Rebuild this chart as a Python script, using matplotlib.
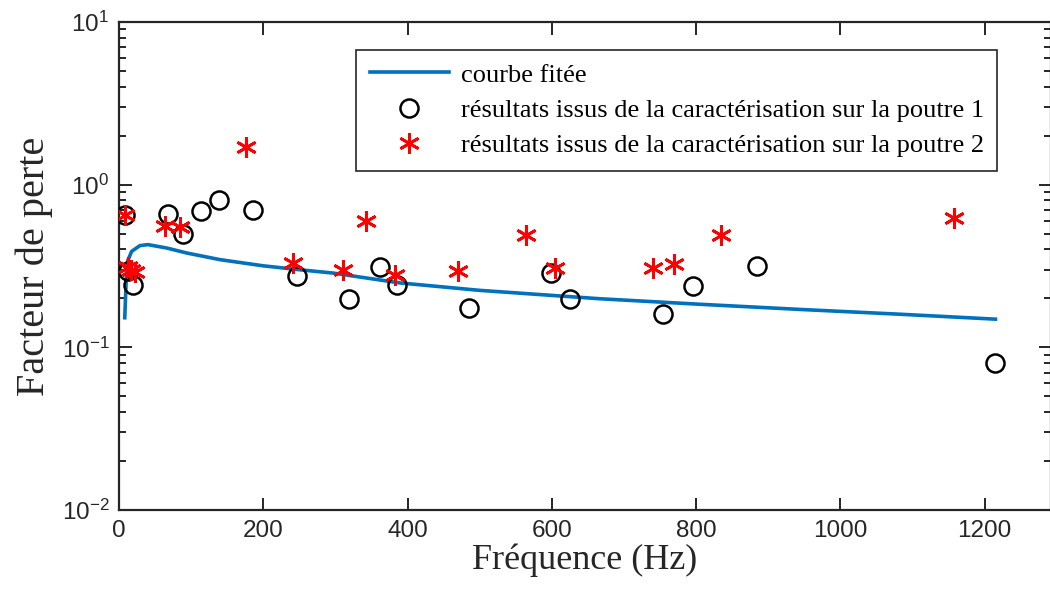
import matplotlib
matplotlib.use("Agg")
import matplotlib.pyplot as plt
from matplotlib.ticker import LogLocator, FixedLocator

# courbe fitée
f_fit = [8, 10.5, 12, 17.5, 29, 40, 66, 94, 140, 200, 250, 297, 389, 500, 666, 805, 944, 1080, 1215]
eta_fit = [0.152, 0.30, 0.34, 0.389, 0.422, 0.428, 0.408, 0.38, 0.346, 0.317, 0.300,
           0.286, 0.249, 0.224, 0.199, 0.184, 0.171, 0.160, 0.149]

# poutre 1
f_p1 = [8, 12, 20, 67.5, 89, 113, 139, 186, 247, 319, 362, 386, 485, 599, 625, 754, 796, 885, 1214]
eta_p1 = [0.65, 0.296, 0.243, 0.663, 0.50, 0.685, 0.80, 0.70, 0.273, 0.198, 0.312, 0.24,
          0.175, 0.287, 0.199, 0.160, 0.237, 0.318, 0.080]

# poutre 2
f_p2 = [8, 13, 17, 22, 64, 85, 176, 241, 311, 343, 382, 470, 564, 604, 740, 769, 834, 1158]
eta_p2 = [0.648, 0.31, 0.30, 0.29, 0.56, 0.55, 1.706, 0.33, 0.297, 0.60, 0.28, 0.296,
          0.49, 0.308, 0.308, 0.325, 0.49, 0.627]

axis_col = '#262626'
plt.rcParams['font.family'] = 'Liberation Sans'
plt.rcParams['mathtext.default'] = 'regular'
plt.rcParams['axes.unicode_minus'] = False

fig = plt.figure(figsize=(10.5, 5.99), dpi=100)
ax = fig.add_axes([119 / 1050, 1 - 510 / 599, (1051 - 119) / 1050, (510 - 22) / 599])

ax.semilogy(f_fit, eta_fit, color='#0072BD', lw=2.6, label='courbe fitée', zorder=2)
ax.plot(f_p1, eta_p1, 'o', ms=13, mfc='none', mec='black', mew=1.8,
        label='résultats issus de la caractérisation sur la poutre 1', zorder=3)
ax.plot(f_p2, eta_p2, ls='none', marker=(6, 2, 0), ms=15, mec='red', mfc='red', mew=2,
        label='résultats issus de la caractérisation sur la poutre 2', zorder=4)

ax.set_xlim(0, 1292)
ax.set_ylim(1e-2, 1e1)
ax.set_xticks([0, 200, 400, 600, 800, 1000, 1200])
ax.yaxis.set_major_locator(FixedLocator([1e-2, 1e-1, 1e0, 1e1]))
ax.yaxis.set_minor_locator(LogLocator(base=10, subs=range(2, 10)))

ax.tick_params(which='both', direction='in', top=True, right=True, colors=axis_col,
               width=1.4)
ax.tick_params(which='major', length=9, labelsize=17.5, pad=7)
ax.tick_params(which='minor', length=5)
for sp in ax.spines.values():
    sp.set_color(axis_col)
    sp.set_linewidth(1.6)

ax.set_xlabel('Fréquence (Hz)', fontfamily='Liberation Serif', fontsize=26,
              color=axis_col, labelpad=1)
ax.set_ylabel('Facteur de perte', fontfamily='Liberation Serif', fontsize=29,
              color=axis_col, labelpad=6)

leg = ax.legend(loc='upper right', bbox_to_anchor=(997 / 1050, 1 - 50 / 599),
                bbox_transform=fig.transFigure, borderaxespad=0,
                prop={'family': 'Liberation Serif', 'size': 19},
                fancybox=False, framealpha=1, edgecolor=axis_col,
                handlelength=3.0, handletextpad=0.45, labelspacing=0.45, borderpad=0.5)
leg.get_frame().set_linewidth(1.2)

fig.savefig('out.png', dpi=100)
